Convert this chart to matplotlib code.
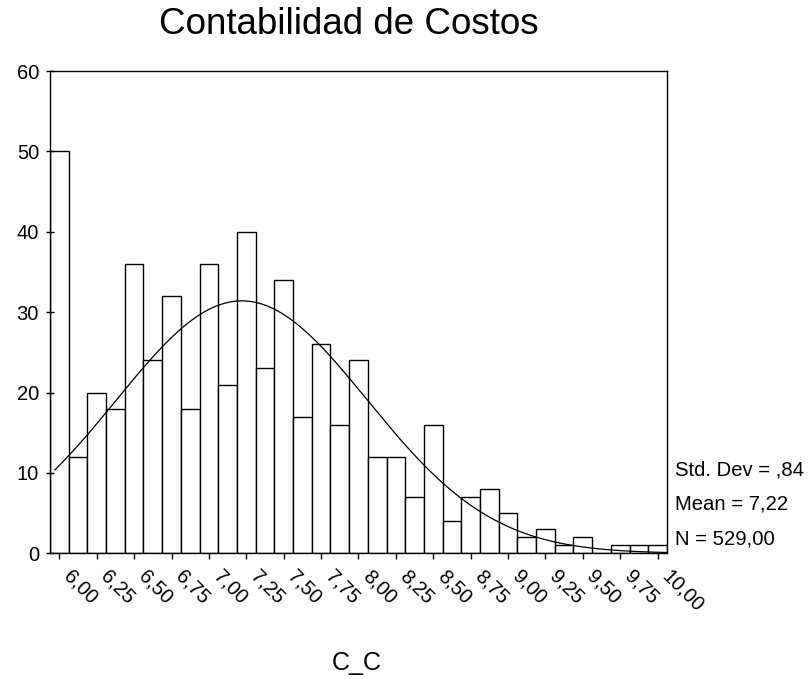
import numpy as np
import matplotlib
matplotlib.use("Agg")
from matplotlib import pyplot as plt
from matplotlib.transforms import ScaledTranslation

plt.rcParams['font.family'] = ['Liberation Sans', 'DejaVu Sans']

# histogram of C_C, bin width 0.125, bins centred on 6.00 ... 10.00
bin_centers = [6.000, 6.125, 6.250, 6.375, 6.500, 6.625, 6.750, 6.875,
               7.000, 7.125, 7.250, 7.375, 7.500, 7.625, 7.750, 7.875,
               8.000, 8.125, 8.250, 8.375, 8.500, 8.625, 8.750, 8.875,
               9.000, 9.125, 9.250, 9.375, 9.500, 9.625, 9.750, 9.875,
               10.000]
counts = [50, 12, 20, 18, 36, 24, 32, 18,
          36, 21, 40, 23, 34, 17, 26, 16,
          24, 12, 12, 7, 16, 4, 7, 8,
          5, 2, 3, 1, 2, 0, 1, 1,
          1]
tick_values = [6.00, 6.25, 6.50, 6.75, 7.00, 7.25, 7.50, 7.75, 8.00,
               8.25, 8.50, 8.75, 9.00, 9.25, 9.50, 9.75, 10.00]
tick_labels = ['6,00', '6,25', '6,50', '6,75', '7,00', '7,25', '7,50', '7,75', '8,00',
               '8,25', '8,50', '8,75', '9,00', '9,25', '9,50', '9,75', '10,00']
std_dev = 0.84
mean = 7.22
n = 529
bin_width = 0.125

fig = plt.figure(figsize=(8.12, 6.79), dpi=100)
ax = fig.add_axes([0.0616, 0.1851, 0.7598, 0.7103])

ax.bar(bin_centers, counts, width=bin_width, color='white',
       edgecolor='black', linewidth=1.0)

# normal curve scaled to the histogram
xs = np.linspace(5.97, 10.06, 300)
ys = n * bin_width / (std_dev * np.sqrt(2 * np.pi)) * np.exp(-0.5 * ((xs - mean) / std_dev) ** 2)
ax.plot(xs, ys, color='black', linewidth=0.9)

ax.set_xlim(5.9375, 10.0625)
ax.set_ylim(0, 60)
ax.set_yticks([0, 10, 20, 30, 40, 50, 60])
ax.set_xticks(tick_values)
ax.set_xticklabels(tick_labels, rotation=-45, ha='left', va='top',
                   rotation_mode='anchor')
ax.tick_params(axis='x', labelsize=14.5, length=4.3, width=1.0,
               direction='out', pad=3)
ax.tick_params(axis='y', labelsize=14.5, length=5.8, width=1.0,
               direction='inout', pad=5)
shift = ScaledTranslation(14 / 100, -3 / 100, fig.dpi_scale_trans)
for lab in ax.get_xticklabels():
    lab.set_transform(lab.get_transform() + shift)
for spine in ax.spines.values():
    spine.set_linewidth(1.0)

fig.text(348.5 / 812, 1 - 25 / 679, 'Contabilidad de Costos', fontsize=26.5,
         ha='center', va='center')
fig.text(356.5 / 812, 1 - 663 / 679, 'C_C', fontsize=18, ha='center', va='center')

stats = ['Std. Dev = ,84', 'Mean = 7,22', 'N = 529,00']
baselines = [475, 509.5, 544.3]
for label, yb in zip(stats, baselines):
    fig.text(675 / 812, 1 - yb / 679, label, fontsize=14.6, ha='left', va='baseline')

fig.savefig('out.png', dpi=100)
